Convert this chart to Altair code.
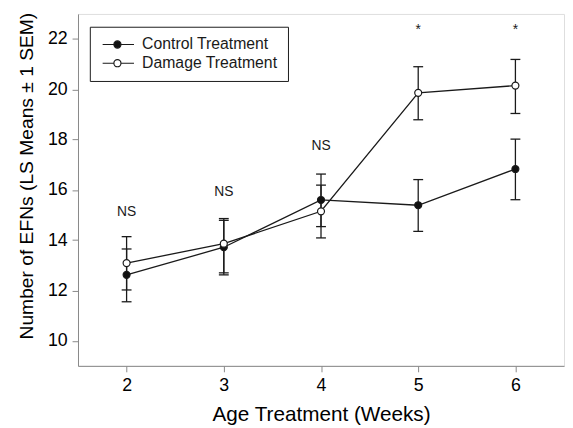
import altair as alt
import pandas as pd

# ---- data ----
weeks = [2, 3, 4, 5, 6]
series_names = ["Control Treatment", "Damage Treatment"]

control_mean = [12.62, 13.72, 15.60, 15.39, 16.83]
control_low = [11.55, 12.62, 14.54, 14.35, 15.61]
control_high = [13.65, 14.79, 16.63, 16.41, 18.02]

damage_mean = [13.09, 13.86, 15.15, 19.86, 20.15]
damage_low = [12.02, 12.70, 14.09, 18.79, 19.04]
damage_high = [14.14, 14.86, 16.19, 20.90, 21.19]

ns_weeks = [2, 3, 4]
ns_y = [15.12, 15.90, 17.76]
ns_labels = ["NS", "NS", "NS"]

star_weeks = [5, 6]
star_y = [22.34, 22.34]
star_labels = ["*", "*"]

y_ticks = [10, 12, 14, 16, 18, 20, 22]

# ---- tables ----
rows = []
for i, w in enumerate(weeks):
    rows.append({"week": w, "series": series_names[0], "mean": control_mean[i],
                 "low": control_low[i], "high": control_high[i]})
for i, w in enumerate(weeks):
    rows.append({"week": w, "series": series_names[1], "mean": damage_mean[i],
                 "low": damage_low[i], "high": damage_high[i]})
df = pd.DataFrame(rows)
ns_df = pd.DataFrame({"week": ns_weeks, "y": ns_y, "label": ns_labels})
star_df = pd.DataFrame({"week": star_weeks, "y": star_y, "label": star_labels})

FONT = "Liberation Sans"
INK = "#1a1a1a"

xscale = alt.Scale(domain=[1.5, 6.5], nice=False, zero=False)
yscale = alt.Scale(domain=[9, 23], nice=False, zero=False)

x_enc = alt.X("week:Q", scale=xscale,
              axis=alt.Axis(values=weeks, format="d", title="Age Treatment (Weeks)",
                            grid=False, tickSize=6, labelPadding=5, labelFontSize=18,
                            titleFontSize=21, titleFontWeight="normal",
                            titleY=49, titleBaseline="middle"))
y_axis = alt.Axis(values=y_ticks, format="d", title="Number of EFNs (LS Means \u00b1 1 SEM)",
                  grid=False, tickSize=6, labelPadding=5, labelFontSize=18,
                  titleFontSize=19.5, titleFontWeight="normal",
                  titleX=-46, titleY=164, titleBaseline="alphabetic")

base = alt.Chart(df)

err = base.mark_rule(color=INK, strokeWidth=1.3).encode(
    x=x_enc,
    y=alt.Y("low:Q", scale=yscale, axis=y_axis),
    y2="high:Q",
)
cap_low = base.mark_tick(orient="horizontal", size=10, thickness=1.3, color=INK, opacity=1).encode(
    x="week:Q", y="low:Q")
cap_high = base.mark_tick(orient="horizontal", size=10, thickness=1.3, color=INK, opacity=1).encode(
    x="week:Q", y="high:Q")

lines = base.mark_line(color=INK, strokeWidth=1.3).encode(
    x="week:Q", y="mean:Q", detail="series:N")

legend_symbol = ("M-1,0H1.28M2.72,0H5.36M1.28,0A0.72,0.72,0,1,0,2.72,0"
                 "A0.72,0.72,0,1,0,1.28,0Z")

points = base.mark_point(filled=True, size=50, stroke=INK, strokeWidth=1.2, opacity=1).encode(
    x="week:Q", y="mean:Q",
    fill=alt.Fill("series:N",
                  scale=alt.Scale(domain=series_names, range=["#111111", "#ffffff"]),
                  legend=alt.Legend(title=None, orient="none", legendX=12, legendY=13,
                                    symbolType=legend_symbol, symbolSize=100,
                                    symbolStrokeColor=INK, symbolStrokeWidth=1.2,
                                    labelFontSize=16, labelOffset=27, rowPadding=3,
                                    padding=10, strokeColor=INK, fillColor="white",
                                    labelColor=INK, labelFont=FONT, cornerRadius=0)),
)

ns_text = alt.Chart(ns_df).mark_text(fontSize=14, font=FONT, color=INK, baseline="middle").encode(
    x="week:Q", y="y:Q", text="label:N")
star_text = alt.Chart(star_df).mark_text(fontSize=14, font=FONT, color=INK, baseline="middle", dy=0).encode(
    x="week:Q", y="y:Q", text="label:N")

chart = alt.layer(err, cap_low, cap_high, lines, points, ns_text, star_text).properties(
    width=493, height=357,
    autosize=alt.AutoSizeParams(type="none"),
    padding={"left": 71, "top": 3, "right": 1, "bottom": 60},
).configure_view(
    stroke=INK, strokeWidth=1.2
).configure_axis(
    labelFont=FONT, titleFont=FONT, labelColor=INK, titleColor=INK,
    domainColor=INK, tickColor=INK, domainWidth=1.2, tickWidth=1.2
).configure(background="white")

chart.save("out.html", embed_options={"renderer": "svg", "actions": False})
